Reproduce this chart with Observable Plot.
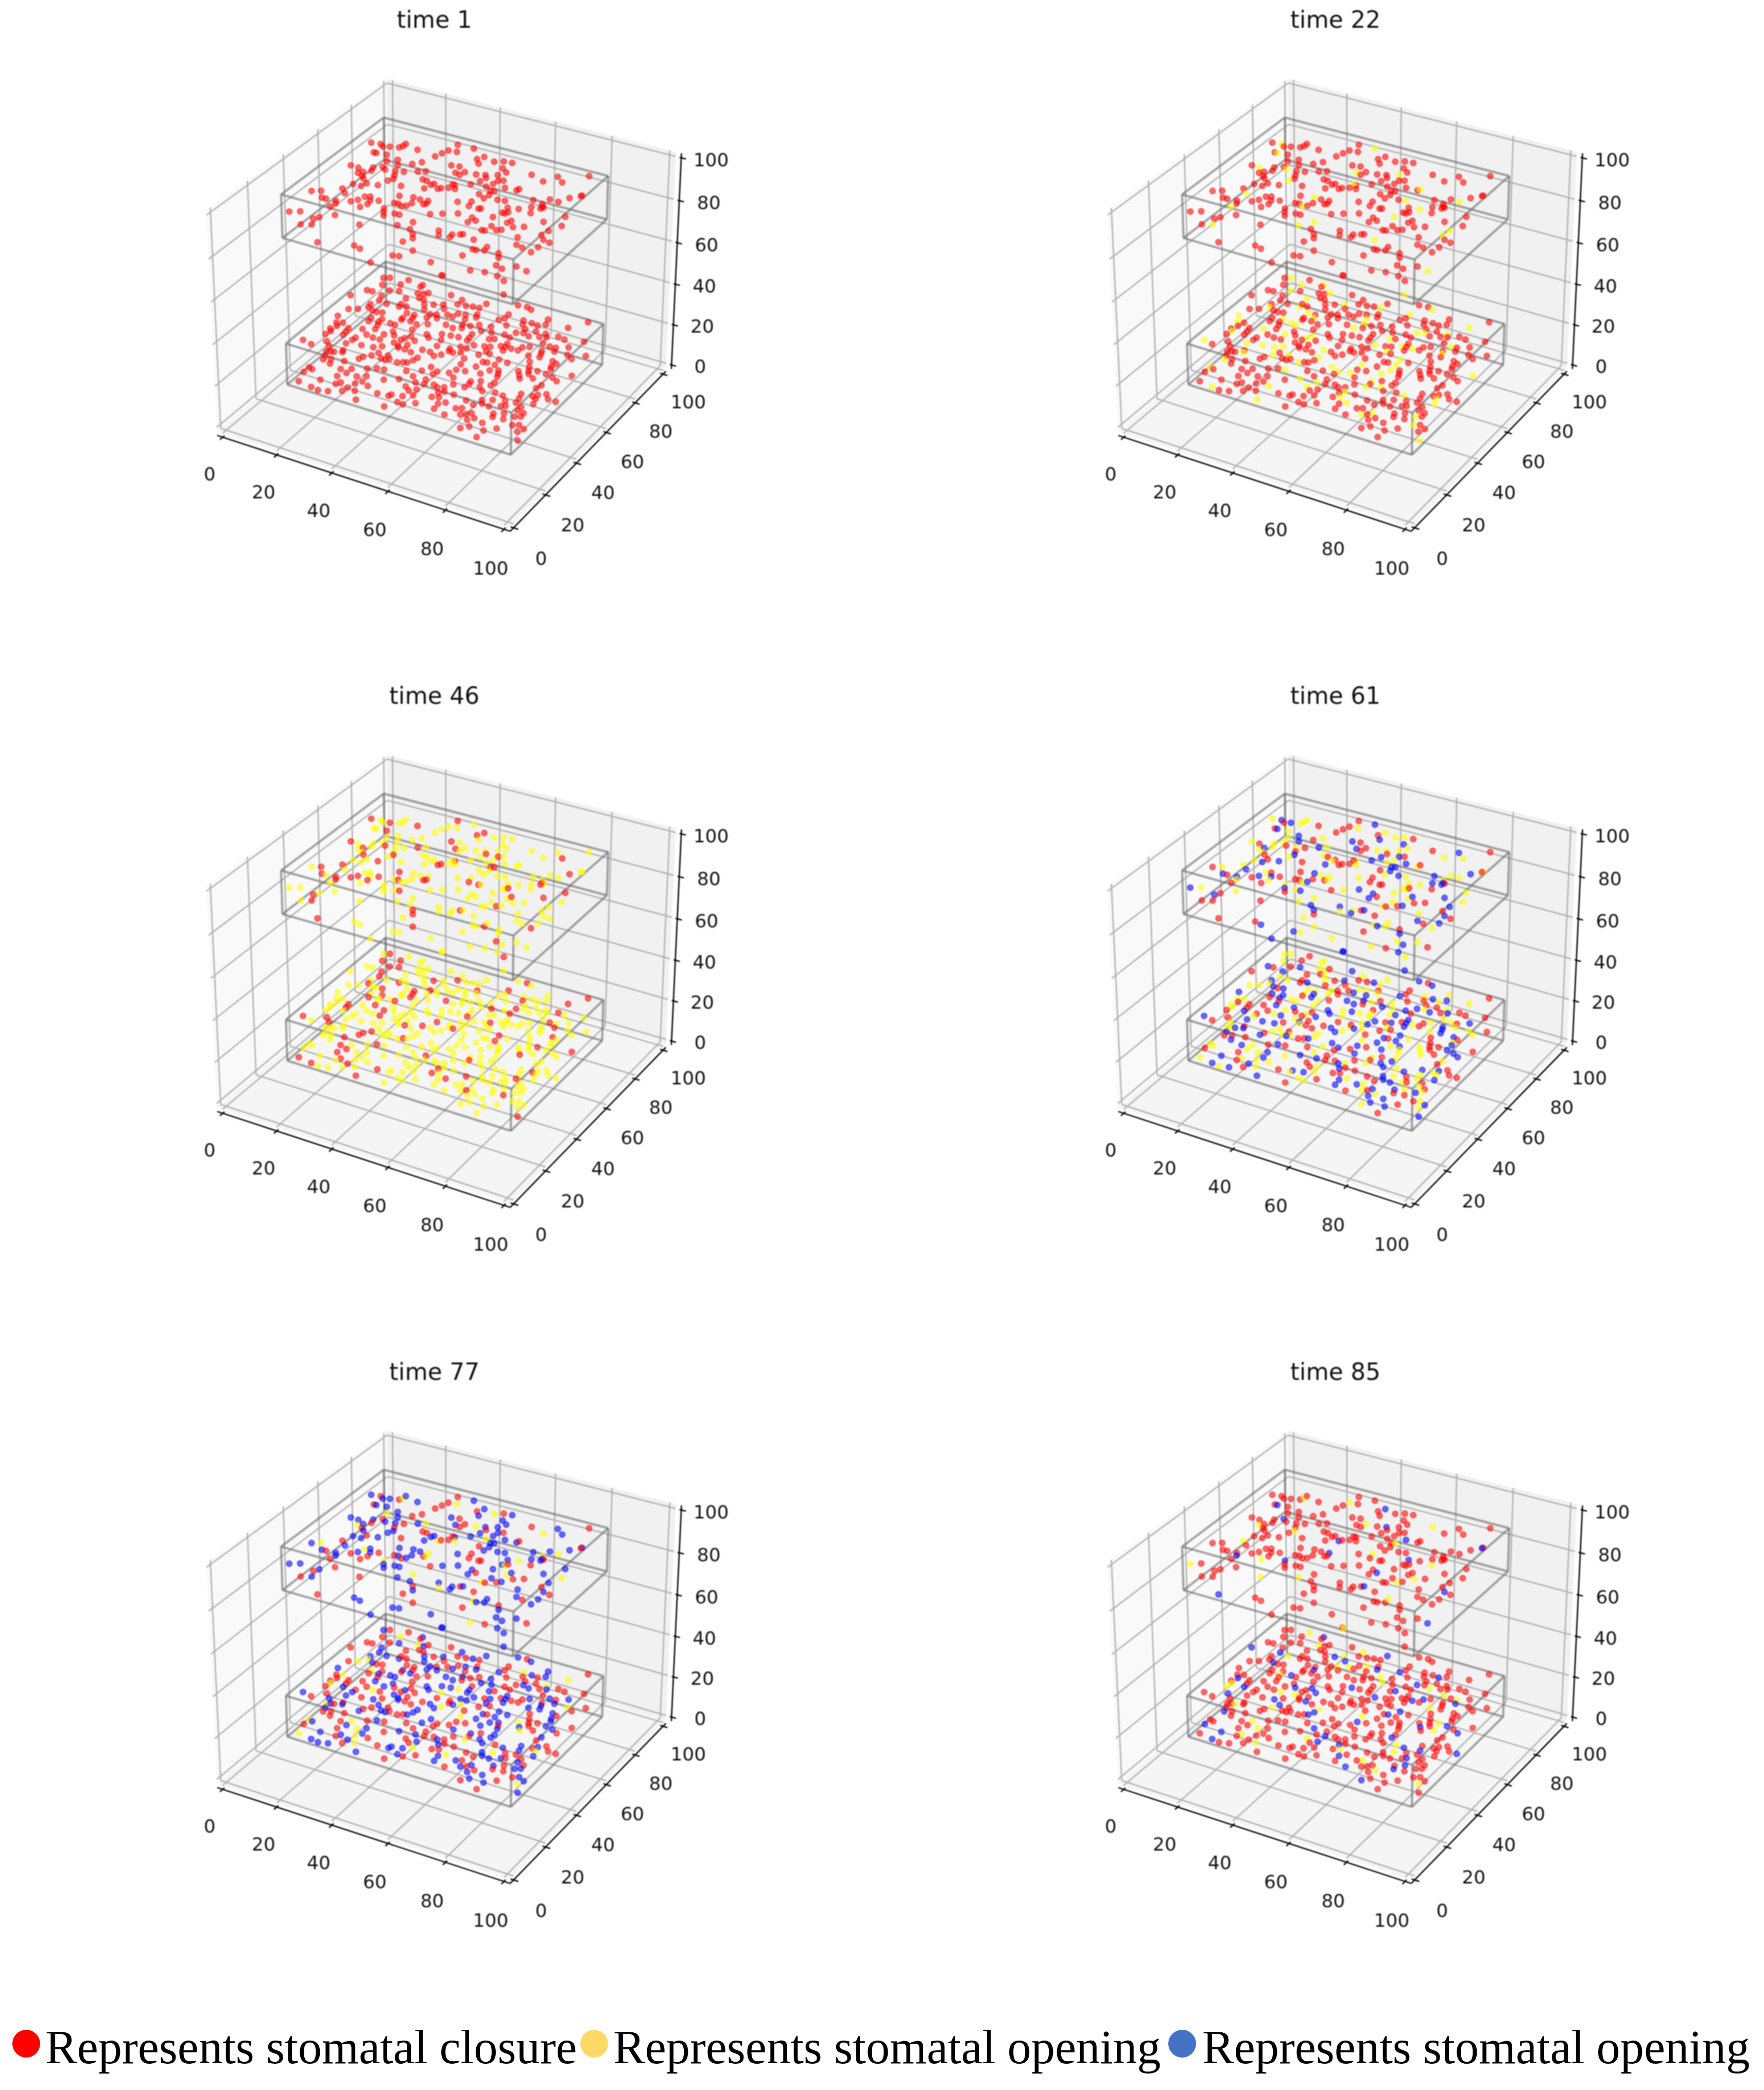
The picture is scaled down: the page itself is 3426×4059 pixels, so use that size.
<!DOCTYPE html>
<html><head><meta charset="utf-8">
<script src="https://cdn.jsdelivr.net/npm/d3@7"></script>
<script src="https://cdn.jsdelivr.net/npm/@observablehq/plot@0.6"></script>
<style>
html,body{margin:0;background:#fff}
#page{position:relative;width:3426px;height:4059px;overflow:hidden}
#page svg{position:absolute;background:transparent}
.lg{position:absolute;font-family:"Liberation Serif",serif;font-size:92.5px;line-height:1;white-space:nowrap;color:#000;transform-origin:0 0}
.dot{position:absolute;width:54px;height:54px;border-radius:50%}
</style></head><body><div id="page"></div>
<script>
const times=["time 1","time 22","time 46","time 61","time 77","time 85"];
const tickValues=[0,20,40,60,80,100];
const upperLayerZ=90, lowerLayerZ=20;
const upperBox={x:[10,90],y:[20,80],z:[80,100]};
const lowerBox={x:[10,90],y:[20,80],z:[10,30]};
const legendLabels=["Represents stomatal closure","Represents stomatal opening","Represents stomatal opening"];
const legendColors=["#ff0000","#ffd966","#4472c4"];
const upperPoints=[[7.9,75.6],[11,76.2],[12.5,75.1],[14.5,76.1],[17.3,77.2],[17.9,78.6],[17.9,80.3],[23.2,78.6],[30.3,77.5],[12.1,70.2],[13,70.3],[16.5,70.9],[18.8,67],[21.3,69.6],[26.7,69.4],[28.7,72],[10.5,59],[13.4,58.8],[15.1,55.8],[16.1,57.2],[17.3,54.6],[18.6,53.4],[17.3,61.3],[18,59.1],[19.7,63.1],[21.3,61.9],[23.2,66.4],[24.6,62.6],[27.1,63.6],[30.8,65.9],[32.9,67.3],[25.8,60],[26.7,57.9],[25.8,56],[34.8,62.1],[36.4,61.9],[39.4,61.3],[38.8,60.3],[42,59],[38.2,57.2],[31.2,55],[24.7,51.9],[21.1,51.2],[20.5,48.9],[17.7,48.7],[16.4,44.5],[18.7,42.3],[9,38.4],[11.5,40],[14.1,36.3],[15.6,36.3],[18.9,36.7],[19.7,35.2],[19.4,32.6],[23,38.7],[24.4,40.6],[25.2,43.4],[26.6,44.3],[27.9,42.1],[28.4,39.7],[27.4,37],[30.2,43.3],[34.1,49.2],[38.3,50.5],[40.8,50.3],[43.4,50.7],[35.1,44.4],[36.4,44.6],[38,43.8],[39.2,44.7],[39.8,47],[43.2,48.2],[43.8,48.9],[10.3,23.7],[13.1,25.5],[23.5,28.8],[20.1,25.3],[19,23.6],[17.7,18.6],[20.6,20.2],[34.2,39.8],[35.3,37.8],[36.5,35.8],[38.7,38.6],[40.3,38.7],[48.2,43.7],[33.1,27.3],[43.2,32.7],[46.3,36.7],[47.7,32.5],[50,30.3],[51.3,28.1],[55.7,36],[57.1,33.5],[49.8,24.8],[28,11.7],[38.5,15.5],[41,14.7],[55.2,21.5],[51.5,16],[53.4,16.6],[63.3,18.2],[48.1,9.1],
[32.5,88],[31.9,83.1],[34.7,83.6],[31.1,80.4],[38.2,88.3],[43.9,84.9],[42.7,82.4],[44.6,80],[48.2,83.6],[50.7,85.3],[53.5,85.7],[37.8,74.7],[40.4,75.3],[43.7,72.9],[41.4,71],[43.2,70.5],[47.5,73.3],[52.7,81],[55,79.1],[50.2,74.4],[51.3,72.8],[50.8,70],[53.6,76.2],[55.5,73],[56.9,73.9],[62.6,81.7],[67.8,79.6],[70.3,84.6],[73.2,82],[78.5,89.9],[49.3,66.7],[55.2,70.4],[54.2,67.8],[59.6,70],[45.3,63.8],[44.5,63.9],[44.5,61.3],[46.6,61.6],[42.6,60],[56.8,65.8],[57.8,66.4],[63.5,70.3],[63.8,71.4],[54.7,62.4],[57.7,63.4],[57.3,60.7],[82.6,77.3],[82.4,76.9],[80,74],[75.2,70.2],[78.2,70.1],[51.5,54.7],[55.1,57],[55.8,54.1],[61.4,62],[63.7,62.5],[71,67.3],[74.6,66.4],[59.2,54.1],[59.8,54.5],[66.6,59],[75.4,64.9],[76,64.6],[75.5,63.6],[69.9,60],[72.7,62.9],[74.3,59.5],[51.3,45.8],[55.3,48.3],[66.7,55.5],[67.6,55.4],[68.1,56.6],[60.3,48.1],[62.2,47],[60.6,45],[65.6,51.6],[71.1,50.6],[71.6,52.3],[68,46.4],[73.9,49.1],[76.7,50.9],[80.3,56.6],[84.5,62.7],[86.3,57],[84.3,52.4],[83.7,49],[85.6,46.7],[88,46],[86.4,41.9],[86,38.2],[82.4,39.3],[80.1,40],[78.2,44.2],[66.7,42.7],[67.6,43],[70.5,44.9],[71.7,45.9],[60.4,35.9],[60.6,34.2],[62.4,37.2],[63.1,37.7],[67.5,36.4],[70.2,31.1],[71.3,31.2],[73.5,32.2],[73.2,34.4],[69.4,26.3],[78,32.8],[79.3,30.5],[80.9,26.1],[83.4,25.2],[86.4,28.5],[90.3,27.5],[75.8,19.7],[80,20.9],[84.3,20.7],[87.3,19.2],[70.3,13]];
const lowerPoints=[[8.1,81.7],[9.9,82.8],[16,84.5],[23.8,92.7],[10.1,77.6],[15.2,80.8],[21.7,84],[21.6,82.7],[7.6,72.1],[9.5,72.3],[14.1,75.6],[17,76.8],[23,78.6],[24.9,79.2],[25.9,80.5],[4.7,66.6],[13.5,71.5],[14.5,68.4],[21.4,73.7],[25,76.2],[26.7,76],[17.7,67.7],[13.3,64.9],[13.7,62.9],[22.1,68.2],[21.9,69.9],[24.1,69.4],[28.5,73.4],[31.2,74.8],[33.9,76.4],[8.8,58.7],[11.4,60.3],[15.9,61.8],[17.6,61.6],[19.4,62.2],[30.1,70.7],[35.5,74.1],[26.4,65.9],[8.1,53.3],[33.3,69],[35.3,69.7],[38.3,71.5],[29.1,66],[18,57.6],[26.9,62.5],[27,61.4],[29.6,64.2],[33.4,66.6],[36.4,67.9],[21.5,58.6],[18.4,55.4],[21.4,56.6],[9.9,49.5],[11.8,50.4],[30,62],[11.2,47.8],[22.2,54.7],[25.1,57.7],[26.9,57.6],[32.7,61.3],[35.8,63.2],[41,65.8],[10.2,45.3],[11.2,44.1],[15.1,48.4],[15.5,46.2],[15.8,44.1],[19.3,50.2],[22.8,52.2],[33.2,57.8],[28.5,53.7],[10.7,41.7],[22.2,47.9],[26.9,50.8],[30.1,51.8],[38.7,57.6],[42.8,60.1],[24.9,47.3],[35,54],[6.5,35],[20.2,44.5],[20,42.8],[27.4,47.4],[33.9,52.1],[33.3,50.5],[40.2,56.1],[44.4,56.8],[13.5,38.1],[10.1,34.1],[19.4,40],[37.4,52.2],[32.3,48],[15.7,35.8],[24.2,41.5],[30.2,44.2],[34.5,46.9],[36.7,48.9],[45.1,53],[28.1,42.3],[16.6,32.7],[17.8,33.4],[18.8,33.8],[20.9,35.9],[21.2,34.9],[35,46],[37.3,46.2],[42.3,48.7],[45,48.8],[49.9,52.2],[31.3,40.2],[39.9,45.6],[17.8,30.3],[30.2,37.8],[34.7,40.3],[48.9,49.1],[47.3,47.3],[28.4,35.7],[27.8,34.1],[18.3,28.2],[20.4,29.5],[33.7,37.8],[36.2,38.7],[43.4,43.8],[24.6,30.6],[35.3,37.6],[43,41.8],[21.5,27.1],[39.3,38.2],[40.9,39.2],[42.1,39.7],[17.1,21.9],[18.5,21.5],[26.1,26],[29,27.8],[33.1,30.4],[35.7,32],[38,32.5],[49.9,41.1],[17.1,18.8],[44.4,35.2],[48.5,37.8],[52.9,39.7],[28.9,24.9],[27.4,21.9],[32.7,24.8],[35.3,26.4],[47.8,33.6],[56.5,40.9],[52.5,37.8],[18.7,13.4],[24,17.5],[41,27.3],[44.9,30],[52.2,33.9],[35.8,23.1],[30.3,19.3],[29.4,17.8],[34.5,21],[50.3,30.9],[53.1,31.4],[55.9,32.5],[23.8,12.5],[38.6,21.7],[26.6,12],[29.6,13],[33.3,15.3],[33.7,17.8],[36.6,17.3],[48.9,27.3],[57.6,31.7],[59.4,32.8],[52.7,27.4],[50.9,25.7],[60.7,30.6],[59.4,29.1],[43.4,19.5],[47.5,21.1],[47.1,20],[53.5,24],[50.9,22],[58.9,26.1],[60.9,27],[39.6,13.1],[51.3,18.3],[53.4,18],[56.4,20.5],[62.5,23.7],[64.2,25.4],[49.1,14.1],[62.9,20.6],[67.3,19.3],
[47.6,91.9],[33,83],[37.7,82],[37.8,78.9],[40.6,79.4],[42.8,80.1],[45,80.4],[45.7,83.8],[55,88.2],[58.1,88.6],[60,87.8],[40.9,73.8],[43.3,74.4],[46.5,76.4],[40.3,71.3],[47.1,74.6],[44.6,71.8],[55.2,81.5],[55.3,78.7],[54.2,76.9],[67.7,85],[61.2,80.5],[79.6,89.9],[45.6,68.4],[48.1,69],[50.3,71],[43.9,65.1],[54.1,71.9],[57.9,75.1],[62.2,78.1],[64.3,80.4],[66.6,80],[68.6,81.8],[75.7,83.6],[46.4,66.5],[52.6,68.1],[64.3,76],[56,68.8],[62.8,72.6],[64.9,73.6],[67.9,76.4],[51.1,64.9],[45.7,60.7],[48.3,61.1],[51.5,62.5],[60.2,69.8],[71.3,76.7],[62.5,69],[67.3,72.7],[70.5,74],[72.5,75],[75.6,77.2],[57.3,64.9],[58.7,65.8],[51.7,60.7],[78.1,76.6],[84.1,78.5],[55,59.2],[51.8,56.3],[63.7,65.2],[73.3,71.2],[58.2,60.3],[59.9,61],[62.6,63],[64.1,63.2],[70.7,67.1],[68.9,65.7],[49.5,53.6],[53.9,56.4],[66.2,63.3],[76.1,70.5],[81.5,73],[78.1,70.8],[64.5,61],[68.5,63.5],[51.5,52],[53.6,53.3],[60.1,58],[75.2,66.8],[78.8,68.5],[61.8,57.2],[59.1,54.9],[75.8,65.3],[72.9,62.3],[83.3,68.8],[88.6,71.1],[76.4,63.2],[56.3,50.7],[66.1,55.6],[85.6,67.2],[62.4,51.8],[63.7,52.2],[75,59.3],[81.1,63.1],[69.3,55.1],[57.1,47.2],[66.5,52.1],[82.8,62.3],[61.9,48.3],[76.4,56.4],[82.2,60.1],[57.5,43.6],[66.7,48.5],[60.3,44.3],[69.1,49.8],[74.6,52.6],[77.3,54.3],[79.8,55.5],[82.8,58.6],[65.1,45.4],[69.9,48.1],[76,50.6],[78.2,52.7],[82.9,55.3],[90.3,58.4],[59,39.2],[70.6,46.3],[77.1,48.9],[80.6,51],[85.6,54.5],[67.4,41.6],[64.8,39.9],[87.7,53.3],[71.5,42.9],[61,35.7],[65.1,38.3],[71.3,40.9],[64.8,36],[68.8,38.4],[84.8,48.8],[84.2,46.5],[70.6,36.8],[74.5,38],[64.1,30.6],[81.8,41.3],[88.6,45],[77.4,37.6],[85.5,41.8],[86.5,43.3],[82.5,38.6],[90.4,42.7],[69,29.6],[73.1,32.2],[75.9,33.9],[87,40.9],[79.5,35.3],[74.2,30.4],[82.8,36.1],[93.1,42.6],[87.8,38],[72.1,28.5],[76.7,30.1],[79.8,32.1],[81,32.8],[85.4,34.7],[68.5,24.1],[70.1,25.1],[71.4,21.8],[74,24.1],[72.9,22.8],[79.9,27.2],[82.6,28.9],[85.4,32.5],[87.7,32],[80.6,25.4],[86.3,28.9],[87.9,29.9],[76.1,22.1],[74.7,20.2],[84,26],[79.5,21],[88,24.4],[89.7,25.5],[77.1,17.3],[75.2,15.2],[84.8,20.4],[92,24.2],[81.9,17.5],[91,22],[81.9,13.3],[93.5,17.7]];
// state of each point per panel, read as an estimate: r closure, y opening, b second opening
const upperStates=[
"",
"ryrrrrrrrryrrrrrryrrrrrrryrrrrrrryrrrrrrrrrrrryrrr"+"rrryrrrrrrrrryrrrryrrrrrrrrrryrrrrrrryyrrrrrrrrrrr"+"rrrrrrryrrrrrrrrryrrrrrrryrrrrrrrrrrrryrrrrrryrrrr"+"rrryrrrryrrrrrrrryrrrrrrrrrryrrrrrrrryyrrrrrrrrrrr"+"rrrryrrrrrrrrrryrrrrrrrryrrrrrrrrryrrrrrrrrrrrrrrr",
"ryyryyyryyyryyyyryyryryyyryyyryyryyyyyryyryyyryyrr"+"yrryrryyyryrryyyyryyyrryyyyryryyyyryyyyyrryyyryyry"+"yyyryyyyrryyyyryyryyyyyryyryyyyryyyyyryyyrrryyyyyy"+"yryyyyryyyyryyryryyyyyyyryyyyyryyyrryyyyyyryyyyyry"+"yyryyyyryyyyryyyyyyryyyryyyyyyryyyyyryyyyyyryyyyry",
"ybrbyyyrrrbyybryyrybyryyyrbyrbyrbyyrryrbrbrbyybryb"+"rbyrrbyrbyrrrbyyrrybrrybyyrbrrybrybrryybbrbyyrrbyb"+"yybrryrbyrbyyrbrrbrybyyrbybrrybyrbyybyrryrbbyrrbyy"+"rbyyyrrbybyrrybrbybrybyyrbrbyybyrrbyybrbrbyrbyyrrb"+"ybrbrybyyrrbybyryrbybrbyrybyrbyrbyyryrbrbyybrbrbyb",
"brbbrybbrrbbybrrbbybrbbrrbbbrbyrbbrrbbybrbrbbrbbyb"+"rbbrrbybbrrrbbbyrbrbbrybbrbrrbybbbbrrbybrbbyrrbbrb"+"bbbrryrbbrbyrbbrrbrybbbrbbbrrybbrbbybbrryrbbbrrbbb"+"rbbybrrbbbyrrbbrbybrbbbyrbrbbybbrrbbybrbrbbrbbyrrb"+"bbrbrybbbrrbbbbryrbbbrbbrybbrbbrbbyrbrbrbbybrbrbbb",
"rrrrryrrrrbrrrrrrryrrrrrbrrrrrrryrrrrrbrrrrrryrrrr"+"rrbrrrrrrryrrrrbrrrrrrryrrrrrrbrrrrryyrrrrrrrbrrrr"+"rrrryrrrbrrrrrrryrrrrrbrrrrryrrrrrrrbrrrrrryrrrrrr"+"brrrryrrrrrrrbrrrrryrrrrrrbrrrrryrrrrrrbrrrrrrrryr"+"rrrbrrrryrrrrrrbrrrryrrrrrbrrrrryrrrrrrbrrrrrryrrr"];
const lowerStates=[
"",
"ryrrryyrrryrrryrrryrrrryyrrrryrrrrrrryyrrrrrrryrry"+"rryrrrryyrrrryrrryrrrrryrrrryyrrryrrrrryrrryyrrryr"+"rrryrryrrrrryyrrrryrrryrrrryrryrrrrryyrrryrrrrryrr"+"rryrrrrryrryyrrrrryrrrryrrrrrrryyrrrryrrryrrrrryrr"+"ryrrrrryyrrrrryrryrrrrrryrrrryyrrrrrryrrrrryrrrryr"+"rrrryrrrrryyrrrrrryrrrryrrrrryrrrrrryyrrrrryrrrrrr"+"yrrrryrrrrrryrrrrryyrrrrrrryrrrrrrryrrrryrrrrrrryy"+"rrrrrryrrrrryrrrrrrrryrrrrrryrrrrryrrrrrrrrrryrrrr",
"yryyrryyyyrryyyyrryyyyyrryyyryyyyyryyyyryyryyyryyr"+"ryyyryyyryyryyrryyryyyyryyyyyryyryyyyryyyyryyyyryy"+"yyyyyrryyyyyryyyrryyyyyryyyyryyyryyryyyyyyrryyyyyr"+"yyyryryyyyyryyyyryyyyyyyrryyyyryryyyyryyyyyyryyyyy"+"ryyyryyyryyyyryyyyyyryyyryyyrryyyyyyyyryyyryyryyyy"+"yyyryyyyyyyryyyyryyyryyyyyyyyryyyyryyryyyyyyyyyyry"+"yyyyyryyryyyyyyyryyyyyyyyyyyryyyryyyyyryyyyyyyyyyy"+"ryyyyyyyyyryyyyyyyyyyryyyyyyyyyryyyyyyyyyyryyyyyyy",
"yyrbyryybrrbyyrrbyrryybyrrbyrbyybrbrrybyrrybyrbyrb"+"rbyybrryyyrbyyrrbrbybrryrbyyrbrybyrbyrrbbyybrbrrby"+"ybrbyrrbyyrbyrybrbrryyyrbybrrbyybyrbrbrrybyrybyrry"+"bybrbyrybrrbyybrbyrbyyrrbrbyybrrbyyrbyrbrbbyrrbyyb"+"rbyyrbybrrbyyrbyrbyrrbybyrbrybyrrbyybyrbrbrybyrrby"+"byrbrbyrrbyybrbrbyybyrrbyyrbrbybrrbyybrbrybyrbyrrb"+"byyrbrbyyrbrybyrrbybyrbyrbrbybyrrbyyrbyrbrbyrrbyyb"+"rbyyrrbyybrbrybyrbbyrbrbyyrrbyyrbyrbyrbrbyyybrrbyr",
"brrbrybrrrrbybrrbbrrrbbybrrbrbrybrrbrrbbrrrybrrbbr"+"rbrybrrbbrrbryrrbrbrbrrbrbbyrbrbrbrbyrrbrbbrrbrrby"+"brrbbrrbrbrbrrybrbrrbrbrbbrrrbybryrbrbrrbrbrybrrry"+"brbrbbrybrrbrbbrbyrbrbrrbrbbybrrbbrrbyrbrbrbrrbrbb"+"rbrbrbbrrrbbyrbrrbbrrbrbyrbrbrbrrbybryrbrbrbrbrrbb"+"brrbrbbrrbrbbrbrbybrbrrbbyrbrbrbrrbbybrbrbrbrbyrrb"+"brbrbrbbyrbrbrbrrbybbrbrrbrbrbbrrbyyrbrrbrbbrrbrbb"+"rbrbrrbbrbrbrbbrrbbyrbrbrbrrbbyrbrrbbrbrbrybbrrbbr",
"rryrrrbrrrrryrrbrbrrryrrrrrrbyrrbrrrbrrryyrrrrbrrr"+"ryrrrbrbrrrrryrrbrrrryrrbrrrbrrryrrrrbrrbyrrrrrrbr"+"ryrrrbrrrbrryrrrrrbrrryrrbrrrbrrryrrrrbrrrrryrbrrr"+"brrrryrrrbrbrrrrryyrrbrrbrrrrrryrrrrbrrrbrryrrrrbr"+"rrryrrbrrrbrrrrryrrrrrbrrryrrbrrrbrrrrryrrrrbrrrbr"+"ryrrrrrbrrbrryrrrrrrbrrryrrrrbrrbrrryrrrrrbrrrrryr"+"rrbrbrrrryrrrbrrrbrrrrryrrrbrrbrrryrrrrbrrrrbrryrr"+"rrbrrbrryrrrrrrbrrryrrrrbrrrrbrryrrrrrbrrrrryrrbrr"];
const W=1676,H=1290,S=5480,CX=865,CY=567,PAD=2.08;
const col=(s,i)=>s.charAt(i)||"r";
// matplotlib-style perspective at elevation 30, azimuth -60, box 4:4:3
function proj(x,y,z){
  const qx=(x/100-.5)*1.143,qy=(y/100-.5)*1.143,qz=(z/100-.5)*.857;
  const xv=.866*qx+.5*qy, yv=-.25*qx+.433*qy+.866*qz;
  const d=10-(.433*qx-.75*qy+.5*qz);
  return {px:xv/d,py:yv/d};
}
const seg=(a,b,extra={})=>{const p=proj(...a),q=proj(...b);return {x1:p.px,y1:p.py,x2:q.px,y2:q.py,...extra}};
const lo=-PAD,hi=100+PAD;
const poly=pts=>pts.map(p=>proj(...p));
const paneX=poly([[lo,lo,lo],[lo,hi,lo],[lo,hi,hi],[lo,lo,hi]]);
const paneY=poly([[lo,hi,lo],[hi,hi,lo],[hi,hi,hi],[lo,hi,hi]]);
const paneZ=poly([[lo,lo,lo],[hi,lo,lo],[hi,hi,lo],[lo,hi,lo]]);
const grid=[];
for(const t of tickValues){
  grid.push(seg([t,lo,lo],[t,hi,lo]),seg([t,hi,lo],[t,hi,hi]));
  grid.push(seg([lo,t,lo],[hi,t,lo]),seg([lo,t,lo],[lo,t,hi]));
  grid.push(seg([lo,lo,t],[lo,hi,t]),seg([lo,hi,t],[hi,hi,t]));
}
function boxEdges(b){
  const out=[];const [x0,x1]=b.x,[y0,y1]=b.y,[z0,z1]=b.z;
  for(const z of [z0,z1]){out.push(seg([x0,y0,z],[x1,y0,z]),seg([x1,y0,z],[x1,y1,z]),seg([x1,y1,z],[x0,y1,z]),seg([x0,y1,z],[x0,y0,z]));}
  for(const x of [x0,x1])for(const y of [y0,y1])out.push(seg([x,y,z0],[x,y,z1]));
  return out;
}
const edges=[...boxEdges(upperBox),...boxEdges(lowerBox)];
const AX={xY:-2.08,xZ:-4,yX:102.08,yZ:-4,zX:104,zY:102.08};
const axisLines=[seg([lo,AX.xY,AX.xZ],[hi,AX.xY,AX.xZ]),seg([AX.yX,lo,AX.yZ],[AX.yX,hi,AX.yZ]),seg([AX.zX,AX.zY,lo],[AX.zX,AX.zY,hi])];
const tickMarks=[];
for(const t of tickValues){
  tickMarks.push(seg([t,AX.xY+1,AX.xZ],[t,AX.xY-1.6,AX.xZ]));
  tickMarks.push(seg([AX.yX-1,t,AX.yZ],[AX.yX+1.6,t,AX.yZ]));
  tickMarks.push(seg([AX.zX-.6,AX.zY,t],[AX.zX+1.6,AX.zY,t]));
}
const lab=(t,p)=>({text:String(t),...p});
const labels=[];
for(const t of tickValues){
  labels.push(lab(t,proj(t,-10,-16.5)));
  labels.push(lab(t,proj(111.5,t,-14.5)));
  labels.push(lab(t,proj(111,109,t-3)));
}
const page=document.getElementById("page");
const xDom=[(0-CX)/S,(W-CX)/S], yDom=[CY/S,(CY-H)/S];
times.forEach((title,k)=>{
  const rows=[
    ...lowerPoints.map((p,i)=>({...proj(p[0],p[1],lowerLayerZ),s:col(lowerStates[k],i)})),
    ...upperPoints.map((p,i)=>({...proj(p[0],p[1],upperLayerZ),s:col(upperStates[k],i)}))
  ];
  const pane=(d,f)=>Plot.line(d,{x:"px",y:"py",fill:f,stroke:"none"});
  const svg=Plot.plot({
    width:W,height:H,margin:0,
    x:{domain:xDom,range:[0,W],axis:null},
    y:{domain:yDom,range:[0,H],axis:null},
    color:{domain:["r","y","b"],range:["#ff0000","#ffff00","#0000ff"]},
    style:{fontFamily:"'DejaVu Sans'",background:"transparent"},
    marks:[
      pane(paneX,"#f9f9f9"),pane(paneY,"#f1f1f1"),pane(paneZ,"#f5f5f5"),
      Plot.link(grid,{x1:"x1",y1:"y1",x2:"x2",y2:"y2",stroke:"#b0b0b0",strokeWidth:2.6}),
      Plot.link(edges,{x1:"x1",y1:"y1",x2:"x2",y2:"y2",stroke:"#6a6a6a",strokeOpacity:.6,strokeWidth:4.4}),
      Plot.dot(rows,{x:"px",y:"py",r:5.6,fill:"s",stroke:"s",fillOpacity:.58,strokeOpacity:.6,strokeWidth:1.6}),
      Plot.link(axisLines,{x1:"x1",y1:"y1",x2:"x2",y2:"y2",stroke:"#000",strokeWidth:2.6}),
      Plot.link(tickMarks,{x1:"x1",y1:"y1",x2:"x2",y2:"y2",stroke:"#000",strokeWidth:2.6}),
      Plot.text(labels,{x:"px",y:"py",text:"text",fontSize:36,fill:"#111",textAnchor:"middle",lineAnchor:"middle"}),
      Plot.text([title],{frameAnchor:"top-left",dx:843,dy:39,fontSize:45.5,fill:"#111",textAnchor:"middle",lineAnchor:"middle"})
    ]
  });
  svg.style.left=(k%2)*1750+"px";
  svg.style.top=Math.floor(k/2)*1313+"px";
  svg.style.filter="blur(1px)";
  page.appendChild(svg);
});
const legendDotX=[24,1127,2269], legendTextX=[88,1191,2335];
legendLabels.forEach((t,i)=>{
  const d=document.createElement("div");d.className="dot";d.style.left=legendDotX[i]+"px";d.style.top="3942px";d.style.background=legendColors[i];page.appendChild(d);
  const e=document.createElement("div");e.className="lg";e.textContent=t;e.style.left=legendTextX[i]+"px";e.style.top="3930px";page.appendChild(e);
});
</script></body></html>
